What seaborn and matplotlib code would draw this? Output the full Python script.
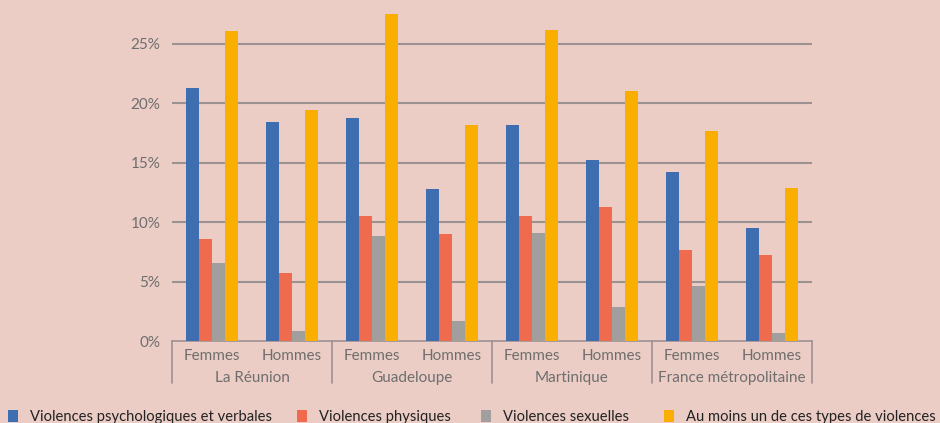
import matplotlib
matplotlib.use("Agg")
import matplotlib.pyplot as plt
import matplotlib.transforms as mtransforms
from matplotlib.patches import Patch
import seaborn as sns
import pandas as pd

regions = ["La Réunion", "Guadeloupe", "Martinique", "France métropolitaine"]
sexes = ["Femmes", "Hommes"]
series = [
    "Violences psychologiques et verbales",
    "Violences physiques",
    "Violences sexuelles",
    "Au moins un de ces types de violences",
]
# values in %, order: Réunion F/H, Guadeloupe F/H, Martinique F/H, France F/H
psycho = [21.3, 18.4, 18.8, 12.8, 18.2, 15.2, 14.2, 9.5]
physique = [8.6, 5.7, 10.5, 9.0, 10.5, 11.3, 7.7, 7.2]
sexuelle = [6.6, 0.85, 8.8, 1.7, 9.1, 2.9, 4.6, 0.7]
au_moins = [26.1, 19.4, 27.5, 18.2, 26.2, 21.0, 17.7, 12.9]
yticks = [0, 5, 10, 15, 20, 25]

colors = ["#3E6DB0", "#EE6C4D", "#A19F9D", "#F9AE00"]
bg = "#EBCDC5"
grid_c = "#9C9291"
text_c = "#6E6E6E"

groups = [f"{r}|{s}" for r in regions for s in sexes]
rows = []
for name, vals in zip(series, [psycho, physique, sexuelle, au_moins]):
    for g, v in zip(groups, vals):
        rows.append({"groupe": g, "serie": name, "valeur": v})
df = pd.DataFrame(rows)

sns.set_theme(style="white")
plt.rcParams["font.family"] = ["Lato", "DejaVu Sans"]

fig = plt.figure(figsize=(9.4, 4.23), dpi=100, facecolor=bg)
ax = fig.add_axes([172 / 940, 82 / 423, 640 / 940, 341 / 423])
ax.set_facecolor(bg)

sns.barplot(data=df, x="groupe", y="valeur", hue="serie", order=groups,
            hue_order=series, palette=colors, width=0.65, ax=ax,
            legend=False, saturation=1, edgecolor="none", zorder=3)

ax.set_xlim(-0.5, len(groups) - 0.5)
ax.set_ylim(0, 28.7)
ax.set_yticks(yticks)
ax.set_yticklabels([f"{t}%" for t in yticks])
for t in yticks[1:]:
    ax.axhline(t, color=grid_c, lw=1.5, zorder=1)

for s in ["top", "right", "left"]:
    ax.spines[s].set_visible(False)
ax.spines["bottom"].set_color(grid_c)
ax.spines["bottom"].set_linewidth(1.2)

ax.set_xticks(range(len(groups)))
ax.set_xticklabels([g.split("|")[1] for g in groups])
ax.tick_params(axis="x", length=0, pad=6, labelsize=11, labelcolor=text_c)
ax.tick_params(axis="y", length=0, pad=8.5, labelsize=11, labelcolor=text_c)
ax.set_xlabel("")
ax.set_ylabel("")

# region separators and names below the axis
trans = mtransforms.blended_transform_factory(ax.transData, ax.transAxes)
sep_bottom = -42 / 341
for xs in [-0.5, 1.5, 3.5, 5.5, 7.5]:
    ax.plot([xs, xs], [0, sep_bottom], transform=trans, color=grid_c,
            lw=1.2, clip_on=False)
for i, r in enumerate(regions):
    ax.text(2 * i + 0.5, -37 / 341, r, transform=trans, ha="center",
            va="center", fontsize=11, color=text_c)

# legend entries along the bottom edge
legend_x = [8, 297, 481, 664]
for c, name, lx in zip(colors, series, legend_x):
    fig.legend([Patch(facecolor=c, edgecolor="none")], [name],
               loc="center left", bbox_to_anchor=(lx / 940, 6 / 423),
               frameon=False, fontsize=10.6, handlelength=0.68,
               handleheight=0.8, handletextpad=0.8, labelcolor="#222222",
               borderaxespad=0, borderpad=0)

fig.savefig("out.png", dpi=100, facecolor=bg)
